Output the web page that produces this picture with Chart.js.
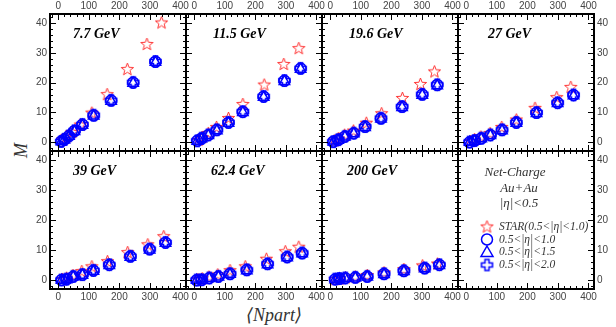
<!DOCTYPE html>
<html>
<head>
<meta charset="utf-8">
<script src="https://cdn.jsdelivr.net/npm/chart.js@4/dist/chart.umd.min.js"></script>
<style>
  body { margin: 0; background: #fff; }
  #wrap { position: relative; width: 616px; height: 327px; overflow: hidden; }
  #wrap canvas { position: absolute; left: 0; top: 0; }
  .axis-title { position: absolute; font: italic 18px "Liberation Serif", "DejaVu Serif", serif; color: #333; white-space: nowrap; }
  #ytitle { left: 14px; top: 140px; transform: rotate(-90deg); }
  #xtitle { left: 246px; top: 304px; }
</style>
</head>
<body>
<div id="wrap">
  <div class="axis-title" id="ytitle">M</div>
  <div class="axis-title" id="xtitle">⟨Npart⟩</div>
</div>
<script>
// ---- data ----
const energies = ['7.7 GeV', '11.5 GeV', '19.6 GeV', '27 GeV', '39 GeV', '62.4 GeV', '200 GeV'];

// STAR measurement, 0.5<|eta|<1.0
const npartStar = [
  [14, 26, 45, 72, 110, 160, 226, 290, 338],
  [14, 26, 46, 73, 112, 159, 229, 293, 342],
  [14, 26, 47, 76, 118, 168, 236, 295, 341],
  [14, 27, 48, 78, 116, 164, 225, 296, 342],
  [14, 27, 48, 77, 110, 161, 227, 293, 345],
  [12, 26, 48, 77, 117, 167, 236, 298, 342],
  [16, 30, 50, 82, 121, 176, 241, 302, 351]
];
const mStar = [
  [0.8, 1.8, 3.3, 5.8, 9.8, 16.0, 24.4, 32.8, 40.0],
  [0.7, 1.6, 3.0, 5.0, 8.0, 12.7, 19.2, 26.1, 31.4],
  [0.5, 1.2, 2.4, 3.8, 6.4, 9.6, 14.7, 19.4, 23.6],
  [0.3, 0.9, 1.8, 3.0, 5.0, 7.5, 11.4, 15.0, 18.4],
  [0.3, 0.7, 1.6, 2.9, 4.5, 6.2, 9.2, 11.8, 14.5],
  [0.2, 0.5, 1.1, 1.8, 3.2, 4.5, 7.0, 9.5, 11.0],
  [0.2, 0.4, 0.8, 1.1, 1.6, 2.5, 3.6, 4.8, 5.4]
];

// model points, three eta windows
const npartModel = [
  [10, 20, 35, 53, 79, 116, 173, 245, 318],
  [10, 24, 46, 74, 112, 159, 227, 295, 348],
  [10, 26, 48, 77, 114, 166, 235, 301, 350],
  [11, 27, 49, 79, 117, 164, 230, 299, 351],
  [11, 27, 49, 79, 115, 167, 236, 299, 351],
  [8, 24, 49, 79, 117, 172, 240, 304, 353],
  [16, 30, 49, 82, 121, 176, 241, 309, 357]
];
const mEta10 = [
  [0.3, 0.9, 2.1, 3.8, 5.9, 9.0, 14.0, 20.0, 27.0],
  [0.5, 1.3, 2.4, 4.1, 6.6, 10.2, 15.3, 20.6, 24.7],
  [0.2, 0.8, 1.9, 3.0, 5.2, 8.0, 11.9, 16.0, 19.2],
  [0.0, 0.5, 1.3, 2.4, 4.1, 6.6, 9.9, 13.2, 15.8],
  [0.1, 0.3, 1.2, 1.8, 3.2, 5.1, 7.9, 10.3, 12.5],
  [0.0, 0.1, 0.7, 1.2, 2.1, 3.4, 5.4, 7.7, 9.0],
  [0.3, 0.5, 0.7, 0.9, 1.2, 2.1, 3.1, 4.0, 5.1]
];
const mEta15 = [
  [0.2, 0.8, 2.0, 3.6, 5.7, 8.8, 13.8, 19.8, 26.8],
  [0.4, 1.2, 2.3, 3.9, 6.4, 10.0, 15.1, 20.4, 24.5],
  [0.1, 0.7, 1.8, 2.9, 5.0, 7.8, 11.7, 15.8, 19.0],
  [0.0, 0.4, 1.2, 2.3, 3.9, 6.4, 9.7, 13.0, 15.6],
  [0.0, 0.2, 1.1, 1.7, 3.0, 4.9, 7.7, 10.1, 12.3],
  [0.0, 0.0, 0.6, 1.1, 2.0, 3.2, 5.2, 7.5, 8.8],
  [0.2, 0.4, 0.6, 0.8, 1.1, 1.9, 2.9, 3.8, 4.9]
];
const mEta20 = [
  [0.3, 1.0, 2.2, 3.9, 6.0, 9.1, 14.1, 20.1, 27.1],
  [0.5, 1.4, 2.5, 4.2, 6.7, 10.3, 15.4, 20.7, 24.8],
  [0.2, 0.9, 2.0, 3.1, 5.3, 8.1, 12.0, 16.1, 19.3],
  [0.1, 0.6, 1.4, 2.5, 4.2, 6.7, 10.0, 13.3, 15.9],
  [0.1, 0.4, 1.3, 1.9, 3.3, 5.2, 8.0, 10.4, 12.6],
  [0.1, 0.2, 0.8, 1.3, 2.2, 3.5, 5.5, 7.8, 9.1],
  [0.4, 0.6, 0.8, 1.0, 1.3, 2.2, 3.2, 4.1, 5.2]
];

const legendText = ['STAR(0.5<|\u03b7|<1.0)', '0.5<|\u03b7|<1.0', '0.5<|\u03b7|<1.5', '0.5<|\u03b7|<2.0'];
const infoText = ['Net-Charge', 'Au+Au', '|\u03b7|<0.5'];

// ---- layout ----
const W = 616, H = 327;
const colLeft = [50, 186, 322, 458];
const rowTop = [14, 151];
const panelW = 136, panelH = [137, 138];
const xMin = -27, xMax = 418, yMin = -2.9, yMax = 43;
const RED = 'rgb(255, 50, 50)';
const BLUE = 'rgb(0, 0, 255)';
const tickFont = { family: '"Liberation Sans", Arial, sans-serif', size: 10 };

function starImage(r, color) {
  const s = Math.ceil(r * 2 + 4);
  const c = document.createElement('canvas');
  c.width = c.height = s;
  const g = c.getContext('2d');
  g.strokeStyle = color;
  g.lineWidth = 1;
  g.beginPath();
  for (let k = 0; k < 10; k++) {
    const rad = k % 2 ? r * 0.42 : r;
    const a = -Math.PI / 2 + k * Math.PI / 5;
    g.lineTo(s / 2 + rad * Math.cos(a), s / 2 + rad * Math.sin(a));
  }
  g.closePath();
  g.stroke();
  return c;
}

function crossImage(r, w, color) {
  const s = Math.ceil(r * 2 + 4);
  const c = document.createElement('canvas');
  c.width = c.height = s;
  const g = c.getContext('2d');
  const m = s / 2;
  g.strokeStyle = color;
  g.lineWidth = 1.5;
  g.beginPath();
  const pts = [[-w, -r], [w, -r], [w, -w], [r, -w], [r, w], [w, w], [w, r], [-w, r], [-w, w], [-r, w], [-r, -w], [-w, -w]];
  pts.forEach(p => g.lineTo(m + p[0], m + p[1]));
  g.closePath();
  g.stroke();
  return c;
}

const starImg = starImage(6.5, RED);
const crossImg = crossImage(5.5, 2, BLUE);

// frame, inward ticks, panel label
const framePlugin = {
  id: 'frame',
  afterDatasetsDraw(chart, args, opts) {
    const ctx = chart.ctx;
    const a = chart.chartArea;
    const sx = chart.scales.x, sy = chart.scales.y;
    ctx.save();
    ctx.strokeStyle = '#000';
    ctx.lineWidth = 1;
    ctx.beginPath();
    for (let v = -20; v <= 400; v += 20) {
      const px = Math.round(sx.getPixelForValue(v)) + 0.5;
      const len = v % 100 === 0 ? 6 : 3;
      ctx.moveTo(px, a.bottom); ctx.lineTo(px, a.bottom - len);
      ctx.moveTo(px, a.top); ctx.lineTo(px, a.top + len);
    }
    for (let v = -2; v <= 42; v += 2) {
      const py = Math.round(sy.getPixelForValue(v)) + 0.5;
      const len = v % 10 === 0 ? 6 : 3;
      ctx.moveTo(a.left, py); ctx.lineTo(a.left + len, py);
      ctx.moveTo(a.right, py); ctx.lineTo(a.right - len, py);
    }
    ctx.stroke();
    ctx.lineWidth = 2;
    ctx.strokeRect(a.left, a.top, a.right - a.left, a.bottom - a.top);

    if (opts.label) {
      ctx.fillStyle = '#000';
      ctx.font = 'italic bold 14px "Liberation Serif", "DejaVu Serif", serif';
      ctx.textBaseline = 'middle';
      ctx.textAlign = 'left';
      ctx.fillText(opts.label, a.left + opts.labelDx, a.top + 20);
    }
    if (opts.legend) {
      ctx.fillStyle = '#333';
      ctx.textAlign = 'center';
      ctx.textBaseline = 'middle';
      ctx.font = 'italic 13px "Liberation Serif", "DejaVu Serif", serif';
      ctx.fillText(infoText[0], 515, 173);
      ctx.fillText(infoText[1], 519, 189);
      ctx.fillText(infoText[2], 519, 204);
      ctx.textAlign = 'left';
      ctx.font = 'italic 11.5px "Liberation Serif", "DejaVu Serif", serif';
      const ys = [227, 239.5, 252, 265];
      legendText.forEach((t, k) => ctx.fillText(t, 499, ys[k]));
      ctx.drawImage(starImg, 487 - starImg.width / 2, ys[0] - starImg.height / 2);
      ctx.strokeStyle = BLUE;
      ctx.lineWidth = 1.5;
      ctx.beginPath();
      ctx.arc(487, ys[1], 5.5, 0, Math.PI * 2);
      ctx.stroke();
      ctx.beginPath();
      ctx.moveTo(487, ys[2] - 6);
      ctx.lineTo(493, ys[2] + 4.5);
      ctx.lineTo(481, ys[2] + 4.5);
      ctx.closePath();
      ctx.stroke();
      ctx.drawImage(crossImg, 487 - crossImg.width / 2, ys[3] - crossImg.height / 2);
    }
    ctx.restore();
  }
};

const labelDx = [23, 27, 27, 30, 23, 25, 25, 0];

function toPoints(xs, ys) {
  return xs.map((x, k) => ({ x: x, y: ys[k] }));
}

// size: pixels reserved for the tick labels of this axis (0 when hidden)
function axis(position, size, isX) {
  return {
    type: 'linear',
    position: position,
    min: isX ? xMin : yMin,
    max: isX ? xMax : yMax,
    grid: { display: false, drawTicks: false },
    border: { display: false },
    ticks: {
      display: size > 0,
      stepSize: isX ? 100 : 10,
      includeBounds: false,
      padding: isX ? 2 : 3,
      maxRotation: 0,
      autoSkip: false,
      font: tickFont,
      color: '#444'
    },
    afterFit(s) {
      if (isX) s.height = size; else s.width = size;
    }
  };
}

const wrap = document.getElementById('wrap');
for (let i = 0; i < 8; i++) {
  const col = i % 4, row = Math.floor(i / 4);
  const left = colLeft[col], top = rowTop[row];
  const canvas = document.createElement('canvas');
  canvas.width = W;
  canvas.height = H;
  wrap.appendChild(canvas);

  const datasets = [];
  if (i < 7) {
    datasets.push({
      label: legendText[0], data: toPoints(npartStar[i], mStar[i]),
      pointStyle: starImg, order: 4
    });
    datasets.push({
      label: legendText[3], data: toPoints(npartModel[i], mEta20[i]),
      pointStyle: crossImg, order: 3
    });
    datasets.push({
      label: legendText[2], data: toPoints(npartModel[i], mEta15[i]),
      pointStyle: 'triangle', pointRadius: 6, borderColor: BLUE, borderWidth: 1.5,
      backgroundColor: 'transparent', order: 2
    });
    datasets.push({
      label: legendText[1], data: toPoints(npartModel[i], mEta10[i]),
      pointStyle: 'circle', pointRadius: 5.5, borderColor: BLUE, borderWidth: 1.5,
      backgroundColor: 'transparent', order: 1
    });
  }

  const leftSize = col === 0 ? 30 : 0;
  const rightSize = col === 3 ? 22 : 0;
  const topSize = row === 0 ? 14 : 0;
  const bottomSize = row === 1 ? 16 : 0;

  new Chart(canvas, {
    type: 'scatter',
    data: { datasets: datasets },
    options: {
      responsive: false,
      animation: false,
      events: [],
      layout: {
        autoPadding: false,
        padding: {
          left: left - leftSize,
          top: top - topSize,
          right: W - left - panelW - rightSize,
          bottom: H - top - panelH[row] - bottomSize
        }
      },
      scales: {
        x: axis('bottom', bottomSize, true),
        x2: axis('top', topSize, true),
        y: axis('left', leftSize, false),
        y2: axis('right', rightSize, false)
      },
      plugins: {
        legend: { display: false },
        tooltip: { enabled: false },
        frame: { label: i < 7 ? energies[i] : '', labelDx: labelDx[i], legend: i === 7 }
      }
    },
    plugins: [framePlugin]
  });
}
</script>
</body>
</html>
